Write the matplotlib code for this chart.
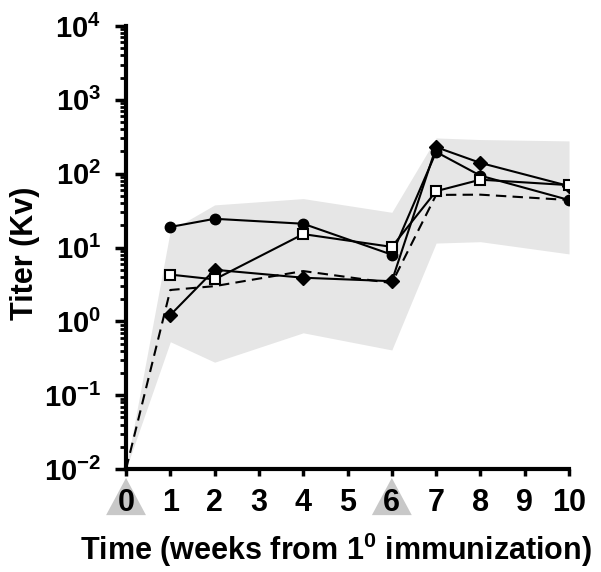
import numpy as np
import matplotlib
matplotlib.use("Agg")
from matplotlib import pyplot as plt
from matplotlib.patches import Polygon

# data
weeks_all = [0, 1, 2, 4, 6, 7, 8, 10]
weeks = [1, 2, 4, 6, 7, 8, 10]
circles = [19, 24.5, 21, 8, 197, 94, 44]
squares = [4.3, 3.7, 15.2, 10.2, 58, 83, 70]
diamonds = [1.22, 5.0, 3.9, 3.5, 229, 140, 68]
mean_dash = [0.01, 2.66, 3.0, 4.8, 3.3, 51.6, 52, 44]
band_low = [0.01, 0.53, 0.28, 0.70, 0.41, 11.5, 12, 8.2]
band_high = [0.01, 17, 37.8, 46, 30, 305, 290, 278]
boost_weeks = [0, 6]
xticks = list(range(0, 11))
yticks = [1e-2, 1e-1, 1e0, 1e1, 1e2, 1e3, 1e4]
ytick_labels = ["$10^{-2}$", "$10^{-1}$", "$10^{0}$", "$10^{1}$",
                "$10^{2}$", "$10^{3}$", "$10^{4}$"]

plt.rcParams['font.family'] = ['Liberation Sans', 'DejaVu Sans']
plt.rcParams['font.weight'] = 'bold'
plt.rcParams['mathtext.fontset'] = 'custom'
plt.rcParams['mathtext.rm'] = 'Liberation Sans:bold'
plt.rcParams['mathtext.bf'] = 'Liberation Sans:bold'
plt.rcParams['mathtext.default'] = 'rm'

fig = plt.figure(figsize=(6.01, 5.72), dpi=100)
ax = fig.add_axes([0.2097, 0.180, 0.7371, 0.7745])

ax.fill_between(weeks_all, band_low, band_high, color='#e6e6e6', lw=0, zorder=0.5)

ax.plot(weeks_all, mean_dash, color='black', lw=1.5, ls=(0, (5, 3)), zorder=2)
ax.plot(weeks, circles, color='black', lw=1.5, marker='o', ms=7.5, zorder=3)
ax.plot(weeks, diamonds, color='black', lw=1.5, marker='D', ms=7, zorder=3)
ax.plot(weeks, squares, color='black', lw=1.5, marker='s', ms=6.5,
        mfc='white', mew=1.5, zorder=4)

# grey triangles under the immunization weeks
tr = ax.get_xaxis_transform()
for w in boost_weeks:
    tri = Polygon([[w, -0.020], [w - 0.45, -0.104], [w + 0.45, -0.104]],
                  closed=True, transform=tr, clip_on=False,
                  facecolor='#c8c8c8', edgecolor='none', zorder=0.5)
    ax.add_patch(tri)

ax.set_yscale('log')
ax.set_xlim(0, 10)
ax.set_ylim(1e-2, 1e4)
ax.set_xticks(xticks)
ax.set_xticklabels([str(x) for x in xticks], fontsize=22, fontweight='bold')
ax.set_yticks(yticks)
ax.set_yticklabels(ytick_labels, fontsize=21)

for s in ['top', 'right']:
    ax.spines[s].set_visible(False)
for s in ['left', 'bottom']:
    ax.spines[s].set_linewidth(3)

ax.tick_params(axis='x', which='major', length=5, width=2.5, pad=9, direction='out')
ax.tick_params(axis='y', which='major', length=8, width=2.5, pad=10, direction='out')
ax.tick_params(axis='y', which='minor', length=4, width=2, direction='out')

ax.set_xlabel("Time (weeks from 1$^{0}$ immunization)", fontsize=22, fontweight='bold')
ax.set_ylabel("Titer (Kv)", fontsize=22, fontweight='bold')
ax.xaxis.set_label_coords(0.473, -0.140)
ax.yaxis.set_label_coords(-0.195, 0.488)

fig.savefig("out.png", dpi=100)
